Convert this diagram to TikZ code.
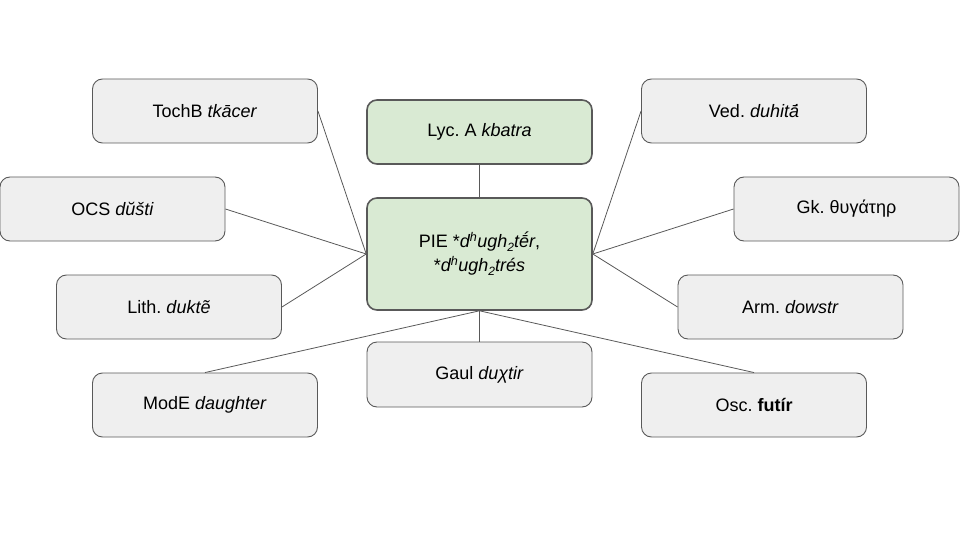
\documentclass[tikz,border=0pt]{standalone}
\usepackage{fontspec}
\setmainfont{Liberation Sans}
\frenchspacing
\definecolor{boxgrey}{HTML}{EFEFEF}
\definecolor{boxgreen}{HTML}{D9EAD3}
\definecolor{edge}{HTML}{595959}
\newcommand{\lowsub}[1]{\raisebox{-4pt}{\fontsize{12}{12}\selectfont #1}}
\begin{document}
\begin{tikzpicture}[x=1pt,y=-1pt,
  box/.style={draw=edge, line width=0.9pt, fill=boxgrey, rounded corners=10pt,
    minimum width=225pt, minimum height=64pt, inner sep=0pt, align=center,
    font=\fontsize{18}{24}\selectfont},
  gbox/.style={box, fill=boxgreen, line width=1.6pt},
  link/.style={draw=edge, line width=0.8pt}]
\useasboundingbox (0,0) rectangle (960,540);
\node[gbox, minimum height=112pt] (pie) at (479.5,254) {PIE *\emph{d\textsuperscript{h}ugh\lowsub{2}t\'{\=e}r},\\*\emph{d\textsuperscript{h}ugh\lowsub{2}tr\'es}};
\node[gbox] (lyc) at (479.5,132) {Lyc. A \emph{kbatra}};
\node[box] (toch) at (205,111) {TochB \emph{tk\=acer}};
\node[box] (ved) at (754,111) {Ved. \emph{duhit\'{\=a}}};
\node[box] (ocs) at (112.5,209) {OCS \emph{dŭšti}};
\node[box] (gk) at (846.5,209) {Gk. θυγάτηρ};
\node[box] (lith) at (169,307) {Lith. \emph{duktẽ}};
\node[box] (arm) at (790.5,307) {Arm. \emph{dowstr}};
\node[box] (mode) at (205,405) {ModE \emph{daughter}};
\node[box, minimum height=65pt] (gaul) at (479.5,374.5) {Gaul \emph{duχtir}};
\node[box] (osc) at (754,405) {Osc. \textbf{futír}};
\draw[link] (pie.north) -- (lyc.south);
\draw[link] (pie.west) -- (toch.east);
\draw[link] (pie.west) -- (ocs.east);
\draw[link] (pie.west) -- (lith.east);
\draw[link] (pie.east) -- (ved.west);
\draw[link] (pie.east) -- (gk.west);
\draw[link] (pie.east) -- (arm.west);
\draw[link] (pie.south) -- (mode.north);
\draw[link] (pie.south) -- (gaul.north);
\draw[link] (pie.south) -- (osc.north);
\end{tikzpicture}
\end{document}
